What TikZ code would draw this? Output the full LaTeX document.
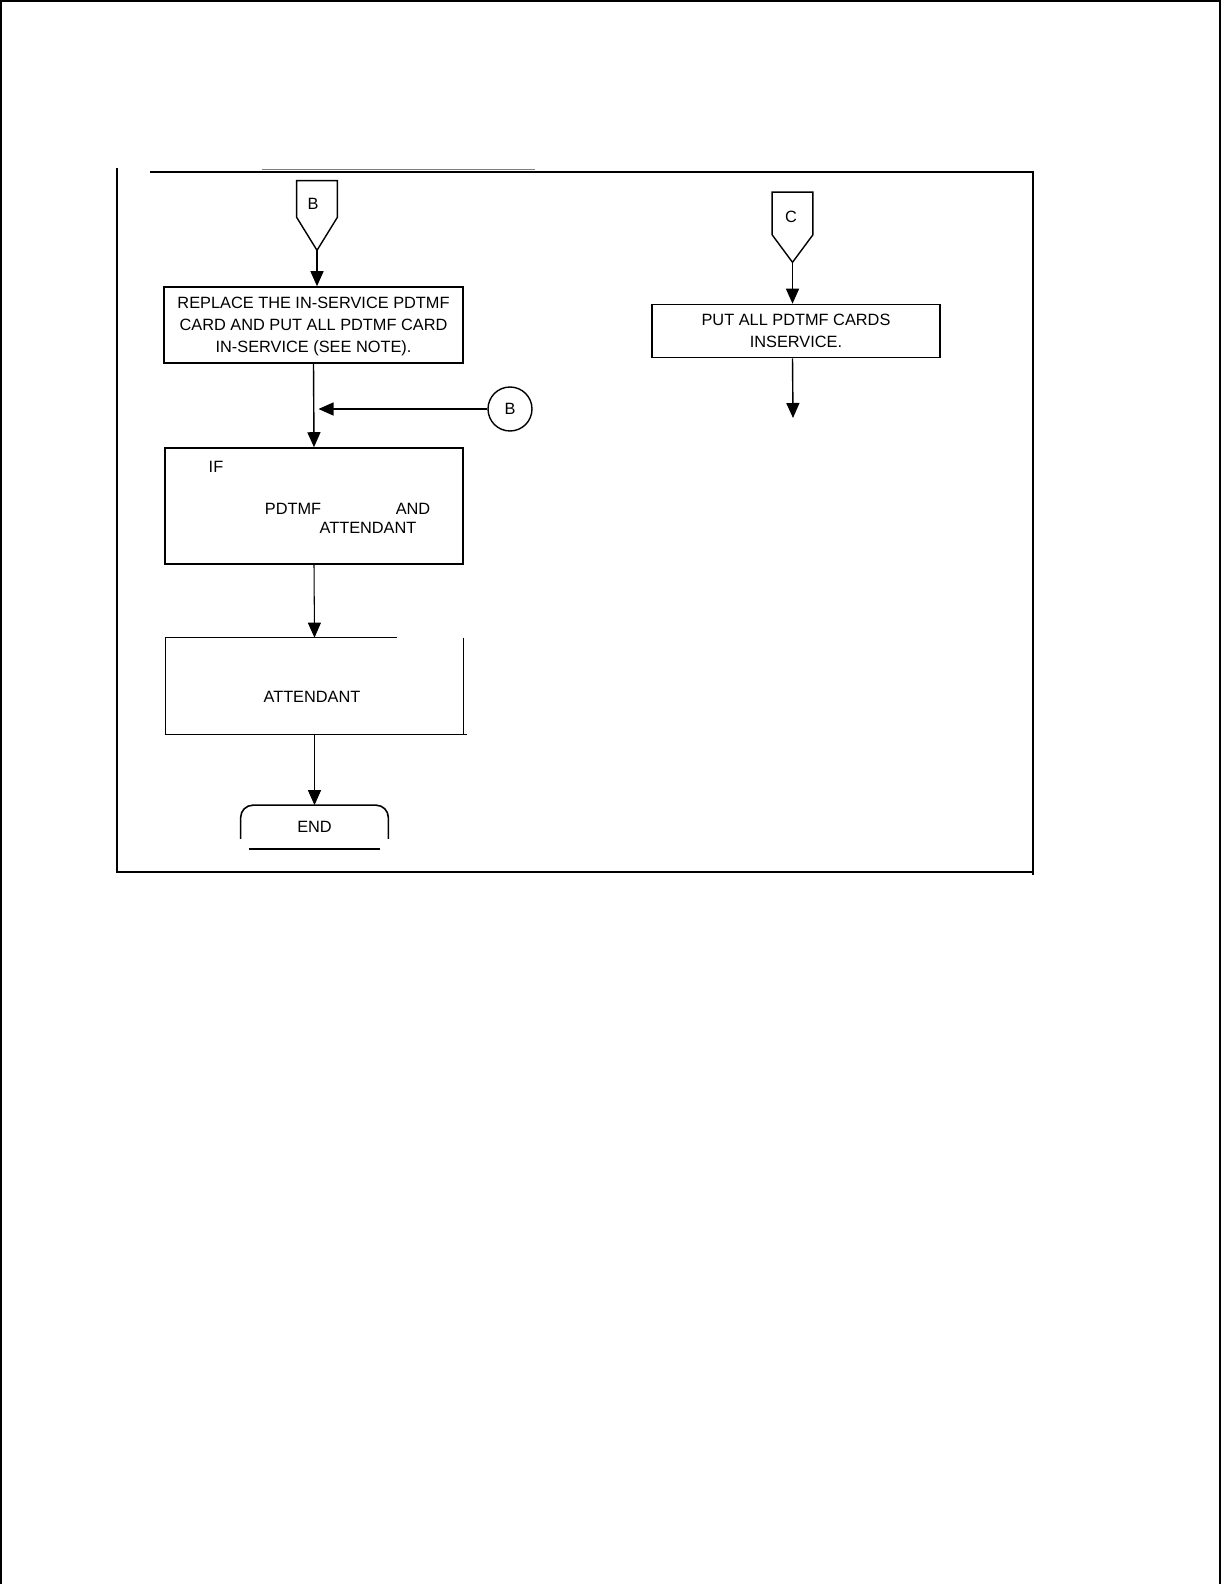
\documentclass[tikz,border=0pt]{standalone}
\usepackage{fontspec}
\setmainfont{Liberation Sans}
\usetikzlibrary{arrows.meta,positioning,calc}

\begin{document}
\begin{tikzpicture}[x=0.02cm, y=-0.02cm,
  every node/.style={font=\fontsize{9.3}{12.5}\selectfont, inner sep=0pt},
  stepbox/.style={draw, line width=0.9pt, align=center, minimum width=5.98cm, text depth=0pt},
  offpage/.style={minimum width=0.8cm},
  conn/.style={line width=0.8pt, -{Triangle[width=0.26cm,length=0.3cm]}},
  frame/.style={line width=1pt}
]
\useasboundingbox (0,0) rectangle (1222,1584);

% Page border
\draw[line width=1.2pt] (1,1584) -- (1,1) -- (1220,1) -- (1220,1584);

% Chart frame
\draw[frame] (150,172) -- (1033,172) -- (1033,875);
\draw[frame] (117,168) -- (117,872) -- (1033,872);
\draw[gray, line width=0.4pt] (262,169) -- (535,169);

% Off-page connectors
\node[offpage, minimum height=0.72cm] (conB) at (317,199) {};
\node (labB) at (313,204) {B};
\coordinate (tipB) at ([yshift=-0.66cm]conB.south);
\draw[line width=0.8pt] (conB.north west) -- (conB.north east) -- (conB.south east) -- (tipB) -- (conB.south west) -- cycle;

\node[offpage, minimum height=0.84cm] (conC) at (792.5,213.5) {};
\node (labC) at (791,217) {C};
\coordinate (tipC) at ([yshift=-0.55cm]conC.south);
\draw[line width=0.8pt] (conC.north west) -- (conC.north east) -- (conC.south east) -- (tipC) -- (conC.south west) -- cycle;

% Steps - left column
\node[stepbox, minimum height=1.52cm] (replace) at (313.5,325)
  {REPLACE THE IN-SERVICE PDTMF\\CARD AND PUT ALL PDTMF CARD\\IN-SERVICE (SEE NOTE).};
\node[stepbox, minimum width=5.96cm, minimum height=2.32cm] (check) at (314,506) {};
\node (ifword) at (216,467) {IF};
\node (pdtmf) at (293,509) {PDTMF};
\node (andword) at (413,509) {AND};
\node (attA) at (368,528) {ATTENDANT};

\node[minimum width=5.94cm, minimum height=1.92cm] (notify) at (314.5,686) {};
\node (attB) at (312,697) {ATTENDANT};
\draw[line width=0.9pt] ([xshift=4.62cm]notify.north west) -- (notify.north west) -- (notify.south west)
  -- ([xshift=0.08cm]notify.south east);
\draw[line width=0.9pt] (notify.north east) -- (notify.south east);

\node[minimum width=2.94cm, minimum height=0.86cm] (finish) at (314.5,827) {END};
\draw[line width=0.9pt, rounded corners=7pt] ([yshift=0.2cm]finish.south west) -- (finish.north west)
  -- (finish.north east) -- ([yshift=0.2cm]finish.south east);
\draw[line width=0.8pt] ([xshift=0.16cm]finish.south west) -- ([xshift=-0.16cm]finish.south east);

\node[circle, draw, line width=0.8pt, minimum size=0.88cm] (jumpB) at (510,409) {B};

% Steps - right column
\node[stepbox, minimum width=5.76cm, minimum height=1.06cm] (putall) at (796,331)
  {PUT ALL PDTMF CARDS\\INSERVICE.};
\coordinate (exitC) at (793,418);

% Connections
\draw[conn] (tipB) -- (tipB |- replace.north);
\draw[conn] (replace.south) -- (check.north);
\draw[conn] (jumpB.west) -- ([xshift=0.1cm]jumpB.west -| replace.south);
\draw[conn, line width=0.6pt] (check.south) -- (notify.north);
\draw[conn, line width=0.6pt] (notify.south) -- (finish.north);
\draw[conn] (tipC) -- (tipC |- putall.north);
\draw[conn] (tipC |- putall.south) -- (exitC);

\end{tikzpicture}
\end{document}
